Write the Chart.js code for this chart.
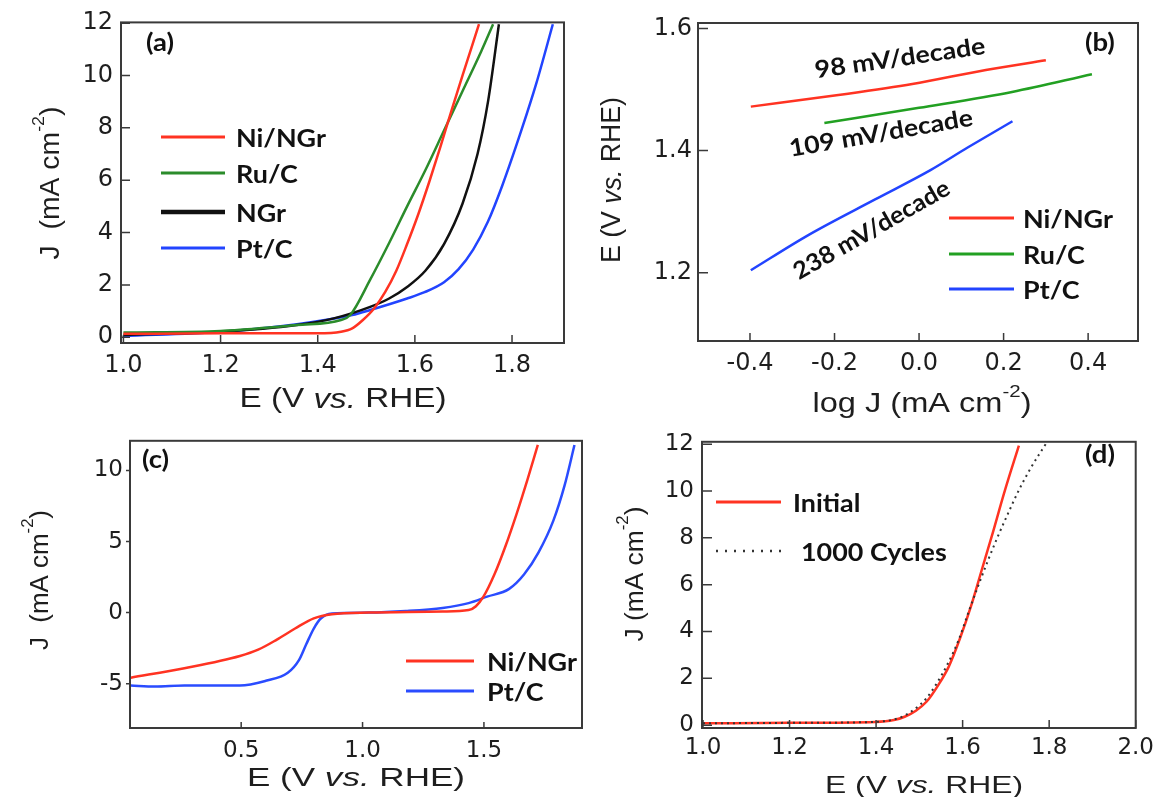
<!DOCTYPE html>
<html lang="en">
<head>
<meta charset="UTF-8">
<title>Ni/NGr OER and ORR curves</title>
<script src="https://cdn.jsdelivr.net/npm/chart.js"></script>
<style>
    body { margin: 0; background: #fff; width: 1160px; height: 797px; overflow: hidden; }
    canvas { position: absolute; }
</style>
</head>
<body>
<canvas id="chartA" width="580" height="420" style="left:0;top:0"></canvas>
<canvas id="chartB" width="580" height="420" style="left:580px;top:0"></canvas>
<canvas id="chartC" width="590" height="377" style="left:0;top:420px"></canvas>
<canvas id="chartD" width="570" height="377" style="left:590px;top:420px"></canvas>
<script>
// (a) OER polarization, J (mA cm-2) vs E (V vs RHE)
const eNiA = [1.0, 1.2, 1.4, 1.448, 1.471, 1.493, 1.516, 1.539, 1.562, 1.584, 1.607, 1.630, 1.653, 1.676, 1.698, 1.732];
const jNiA = [0.13, 0.15, 0.15, 0.21, 0.34, 0.66, 1.10, 1.73, 2.55, 3.56, 4.70, 5.96, 7.30, 8.70, 10.0, 11.96];
const eRuA = [1.0, 1.2, 1.357, 1.448, 1.467, 1.508, 1.547, 1.584, 1.622, 1.660, 1.698, 1.736, 1.761];
const jRuA = [0.18, 0.24, 0.47, 0.66, 0.85, 2.2, 3.6, 5.0, 6.4, 7.9, 9.4, 10.9, 11.96];
const eNGrA = [1.0, 1.2, 1.357, 1.433, 1.508, 1.547, 1.584, 1.622, 1.660, 1.698, 1.729, 1.751, 1.773];
const jNGrA = [0.09, 0.21, 0.47, 0.72, 1.16, 1.48, 1.92, 2.55, 3.56, 5.10, 7.00, 9.05, 11.96];
const ePtA = [1.0, 1.2, 1.357, 1.471, 1.508, 1.584, 1.620, 1.660, 1.690, 1.720, 1.750, 1.780, 1.820, 1.850, 1.884];
const jPtA = [0.05, 0.21, 0.50, 0.85, 1.04, 1.48, 1.72, 2.10, 2.60, 3.35, 4.40, 5.80, 7.95, 9.70, 11.96];

// (b) Tafel plots, E vs log J
const logNiB = [-0.398, -0.191, -0.016, 0.158, 0.300];
const eNiB = [1.472, 1.491, 1.509, 1.532, 1.548];
const logRuB = [-0.224, 0.0, 0.22, 0.409];
const eRuB = [1.445, 1.470, 1.496, 1.525];
const logPtB = [-0.398, -0.261, -0.104, 0.027, 0.115, 0.221];
const ePtB = [1.204, 1.262, 1.320, 1.368, 1.405, 1.448];

// (c) ORR + OER sweep
const eNiC = [0.045, 0.266, 0.495, 0.570, 0.647, 0.722, 0.799, 0.874, 1.026, 1.330, 1.437, 1.467, 1.498, 1.543, 1.589, 1.634, 1.680, 1.722];
const jNiC = [-4.58, -3.91, -3.05, -2.61, -1.90, -1.12, -0.40, -0.11, 0, 0.07, 0.18, 0.45, 1.12, 2.68, 4.69, 6.92, 9.4, 11.8];
const ePtC = [0.045, 0.145, 0.266, 0.495, 0.601, 0.692, 0.738, 0.768, 0.799, 0.829, 0.874, 1.026, 1.178, 1.330, 1.437, 1.513, 1.604, 1.665, 1.725, 1.786, 1.832, 1.873];
const jPtC = [-5.13, -5.2, -5.13, -5.13, -4.80, -4.24, -3.35, -2.23, -1.12, -0.40, -0.07, 0, 0.11, 0.33, 0.67, 1.12, 1.67, 2.68, 4.24, 6.47, 8.93, 11.79];

// (d) stability, initial vs after 1000 cycles
const eInitD = [1.0, 1.2, 1.398, 1.441, 1.466, 1.492, 1.517, 1.543, 1.568, 1.594, 1.619, 1.645, 1.671, 1.696, 1.730];
const jInitD = [0.08, 0.10, 0.14, 0.22, 0.36, 0.62, 1.01, 1.69, 2.50, 3.71, 5.06, 6.68, 8.30, 9.92, 11.94];
const eCycD = [1.0, 1.2, 1.398, 1.440, 1.465, 1.490, 1.515, 1.540, 1.565, 1.590, 1.615, 1.637, 1.659, 1.680, 1.704, 1.729, 1.758, 1.792];
const jCycD = [0.08, 0.10, 0.14, 0.24, 0.40, 0.70, 1.12, 1.78, 2.60, 3.60, 4.90, 6.00, 7.05, 8.00, 9.00, 10.0, 11.0, 12.0];

// tick labels
const ticksAx = [1.0, 1.2, 1.4, 1.6, 1.8];
const ticksAy = [0, 2, 4, 6, 8, 10, 12];
const ticksBx = [-0.4, -0.2, 0.0, 0.2, 0.4];
const ticksBy = [1.2, 1.4, 1.6];
const ticksCx = [0.5, 1.0, 1.5];
const ticksCy = [-5, 0, 5, 10];
const ticksDx = [1.0, 1.2, 1.4, 1.6, 1.8, 2.0];
const ticksDy = [0, 2, 4, 6, 8, 10, 12];

const RED = '#ff3322', GREEN = '#2b8c2b', BLACK = '#111111', BLUE = '#2244ff';
const FONT_TICK = 'DejaVu Sans', FONT_AXIS = 'Liberation Sans', FONT_BOLD = 'Lato';

// axis titles made of pieces (plain / italic / superscript)
const titleE = [{t: 'E (V '}, {t: 'vs.', it: true}, {t: ' RHE)'}];
const titleJ = [{t: 'J  (mA cm'}, {t: '-2', sup: true}, {t: ')'}];
const titleJd = [{t: 'J (mA cm'}, {t: '-2', sup: true}, {t: ')'}];
const titleLog = [{t: 'log J (mA cm'}, {t: '-2', sup: true}, {t: ')'}];

function series(label, xs, ys, color, extra) {
    return Object.assign({
        label: label,
        data: xs.map((v, i) => ({x: v, y: ys[i]})),
        borderColor: color, backgroundColor: color, borderWidth: 2.5,
        pointRadius: 0, showLine: true, fill: false, cubicInterpolationMode: 'monotone'
    }, extra || {});
}

function richText(ctx, segs, cx, cy, size, rot, len) {
    const fontOf = s => s.sup ? Math.round(size * 0.62) + 'px "' + FONT_AXIS + '"'
        : (s.it ? 'italic ' : '') + size + 'px "' + FONT_AXIS + '"';
    let total = 0;
    const w = segs.map(s => { ctx.font = fontOf(s); const m = ctx.measureText(s.t).width; total += m; return m; });
    ctx.save();
    ctx.translate(cx, cy);
    ctx.rotate(rot);
    ctx.scale(len ? len / total : 1, 1);
    ctx.fillStyle = '#1e1e1e';
    ctx.textBaseline = 'middle';
    ctx.textAlign = 'left';
    let x = -total / 2;
    segs.forEach((s, i) => {
        ctx.font = fontOf(s);
        ctx.fillText(s.t, x, s.sup ? -size * 0.48 : 0);
        x += w[i];
    });
    ctx.restore();
}

function boldText(ctx, text, x, y, size, rot, stretch, align) {
    ctx.save();
    ctx.translate(x, y);
    ctx.rotate(rot || 0);
    ctx.scale(stretch || 1, 1);
    ctx.font = 'bold ' + size + 'px "' + FONT_BOLD + '"';
    ctx.fillStyle = '#111';
    ctx.textBaseline = 'middle';
    ctx.textAlign = align || 'left';
    ctx.fillText(text, 0, 0);
    ctx.restore();
}

// frame, inward ticks, axis titles, legend and labels
const panelPlugin = {
    id: 'panel',
    afterDatasetsDraw(chart, args, o) {
        const ctx = chart.ctx, a = chart.chartArea;
        const sx = chart.scales.x, sy = chart.scales.y;
        ctx.save();
        ctx.strokeStyle = '#3a3a3a';
        ctx.lineWidth = 2;
        ctx.strokeRect(a.left, a.top, a.right - a.left, a.bottom - a.top);
        ctx.lineWidth = 1.5;
        ctx.beginPath();
        sx.ticks.forEach(t => {
            const p = sx.getPixelForValue(t.value);
            ctx.moveTo(p, a.bottom); ctx.lineTo(p, a.bottom - o.tickX);
        });
        sy.ticks.forEach(t => {
            const p = sy.getPixelForValue(t.value);
            ctx.moveTo(a.left, p); ctx.lineTo(a.left + o.tickY, p);
        });
        ctx.stroke();

        o.titles.forEach(t => richText(ctx, t.segs, t.x, t.y, t.size, t.rot || 0, t.len));

        const lg = o.legend;
        lg.rows.forEach(r => {
            const ds = chart.data.datasets[r.ds];
            ctx.save();
            ctx.strokeStyle = ds.borderColor;
            ctx.lineWidth = r.lw || 3;
            ctx.setLineDash(r.dash || ds.borderDash || []);
            ctx.beginPath();
            ctx.moveTo(lg.x1, r.y); ctx.lineTo(lg.x2, r.y);
            ctx.stroke();
            ctx.restore();
            boldText(ctx, ds.label, r.tx || lg.tx, r.y + 2, lg.size, 0, lg.stretch);
        });

        boldText(ctx, o.tag.text, o.tag.x, o.tag.y, o.tag.size, 0, 1.1);

        (o.notes || []).forEach(n => {
            const px = sx.getPixelForValue(n.x), py = sy.getPixelForValue(n.y);
            ctx.save();
            ctx.font = 'bold ' + n.size + 'px "' + FONT_BOLD + '"';
            const st = n.len / ctx.measureText(n.text).width;
            ctx.restore();
            boldText(ctx, n.text, px, py, n.size, n.angle * Math.PI / 180, st, 'center');
        });
        ctx.restore();
    }
};

function axis(min, max, ticks, fmt, size, pad) {
    return {
        type: 'linear', min: min, max: max,
        grid: {display: false, drawTicks: false},
        border: {display: false},
        ticks: {font: {family: FONT_TICK, size: size}, color: '#1e1e1e', padding: pad, callback: fmt},
        afterBuildTicks: s => { s.ticks = ticks.map(v => ({value: v})); }
    };
}

function makePanel(id, box, xAxis, yAxis, datasets, deco) {
    const [W, H, L, T, R, B] = box;
    xAxis.afterFit = s => { s.height = H - B; };
    yAxis.afterFit = s => { s.width = L; };
    new Chart(document.getElementById(id), {
        type: 'scatter',
        data: {datasets: datasets},
        options: {
            responsive: false, animation: false, events: [],
            layout: {padding: {left: 0, top: T, right: W - R, bottom: 0}},
            scales: {x: xAxis, y: yAxis},
            plugins: {legend: {display: false}, tooltip: {enabled: false}, panel: deco}
        },
        plugins: [panelPlugin]
    });
}

const f1 = v => v.toFixed(1);
const f0 = v => v.toFixed(0);

// (a)
makePanel('chartA', [580, 420, 121, 20, 564, 343],
    axis(0.995, 1.907, ticksAx, f1, 24, 8),
    axis(-0.22, 12.03, ticksAy, f0, 24, 8),
    [series('Ni/NGr', eNiA, jNiA, RED),
     series('Ru/C', eRuA, jRuA, GREEN),
     series('NGr', eNGrA, jNGrA, BLACK),
     series('Pt/C', ePtA, jPtA, BLUE)],
    {tickX: 8, tickY: 9,
     titles: [{segs: titleJ, x: 52, y: 183, size: 27, rot: -Math.PI / 2, len: 153},
              {segs: titleE, x: 343, y: 400, size: 27, len: 207}],
     legend: {x1: 161, x2: 225, tx: 236, size: 24, stretch: 1.12,
              rows: [{ds: 0, y: 137}, {ds: 1, y: 173}, {ds: 2, y: 212, lw: 4.5}, {ds: 3, y: 248}]},
     tag: {text: '(a)', x: 146, y: 43, size: 25}});

// (b)
makePanel('chartB', [580, 420, 118, 23, 558, 341],
    axis(-0.523, 0.518, ticksBx, f1, 24, 8),
    axis(1.088, 1.609, ticksBy, f1, 24, 6),
    [series('Ni/NGr', logNiB, eNiB, RED),
     series('Ru/C', logRuB, eRuB, '#22a022'),
     series('Pt/C', logPtB, ePtB, BLUE)],
    {tickX: 8, tickY: 10,
     titles: [{segs: titleE, x: 33, y: 180, size: 27, rot: -Math.PI / 2, len: 166},
              {segs: titleLog, x: 342, y: 405, size: 27, len: 219}],
     legend: {x1: 369, x2: 434, tx: 443, size: 24, stretch: 1.12,
              rows: [{ds: 0, y: 218}, {ds: 1, y: 254}, {ds: 2, y: 289}]},
     tag: {text: '(b)', x: 505, y: 43, size: 25},
     notes: [{text: '98 mV/decade', x: -0.045, y: 1.551, angle: -8.2, size: 24, len: 172},
             {text: '109 mV/decade', x: -0.090, y: 1.428, angle: -9.7, size: 24, len: 186},
             {text: '238 mV/decade', x: -0.112, y: 1.270, angle: -29.7, size: 24, len: 176}]});

// (c)
makePanel('chartC', [590, 377, 130, 6, 582, 308],
    axis(0.042, 1.904, ticksCx, f1, 23, 9),
    axis(-8.12, 12.09, ticksCy, f0, 23, 7),
    [series('Ni/NGr', eNiC, jNiC, RED),
     series('Pt/C', ePtC, jPtC, '#2a4cff')],
    {tickX: 6, tickY: -4,
     titles: [{segs: titleJ, x: 41, y: 160, size: 25, rot: -Math.PI / 2, len: 140},
              {segs: titleE, x: 356, y: 359, size: 25, len: 218}],
     legend: {x1: 406, x2: 474, tx: 487, size: 24, stretch: 1.12,
              rows: [{ds: 0, y: 241}, {ds: 1, y: 271}]},
     tag: {text: '(c)', x: 142, y: 40, size: 25}});

// (d)
makePanel('chartD', [570, 377, 112, 6, 550, 308],
    axis(0.9977, 2.0, ticksDx, f1, 23, 6),
    axis(-0.12, 12.1, ticksDy, f0, 23, 8),
    [series('Initial', eInitD, jInitD, RED),
     series('1000 Cycles', eCycD, jCycD, '#333333', {borderWidth: 2, borderDash: [2, 4], order: -1})],
    {tickX: 8, tickY: 10,
     titles: [{segs: titleJd, x: 46, y: 154, size: 25, rot: -Math.PI / 2, len: 135},
              {segs: titleE, x: 334, y: 366, size: 24, len: 198}],
     legend: {x1: 126, x2: 191, tx: 203, size: 24, stretch: 1.12,
              rows: [{ds: 0, y: 82}, {ds: 1, y: 131, tx: 211, lw: 2.5, dash: [2, 7]}]},
     tag: {text: '(d)', x: 495, y: 35, size: 25}});
</script>
</body>
</html>
